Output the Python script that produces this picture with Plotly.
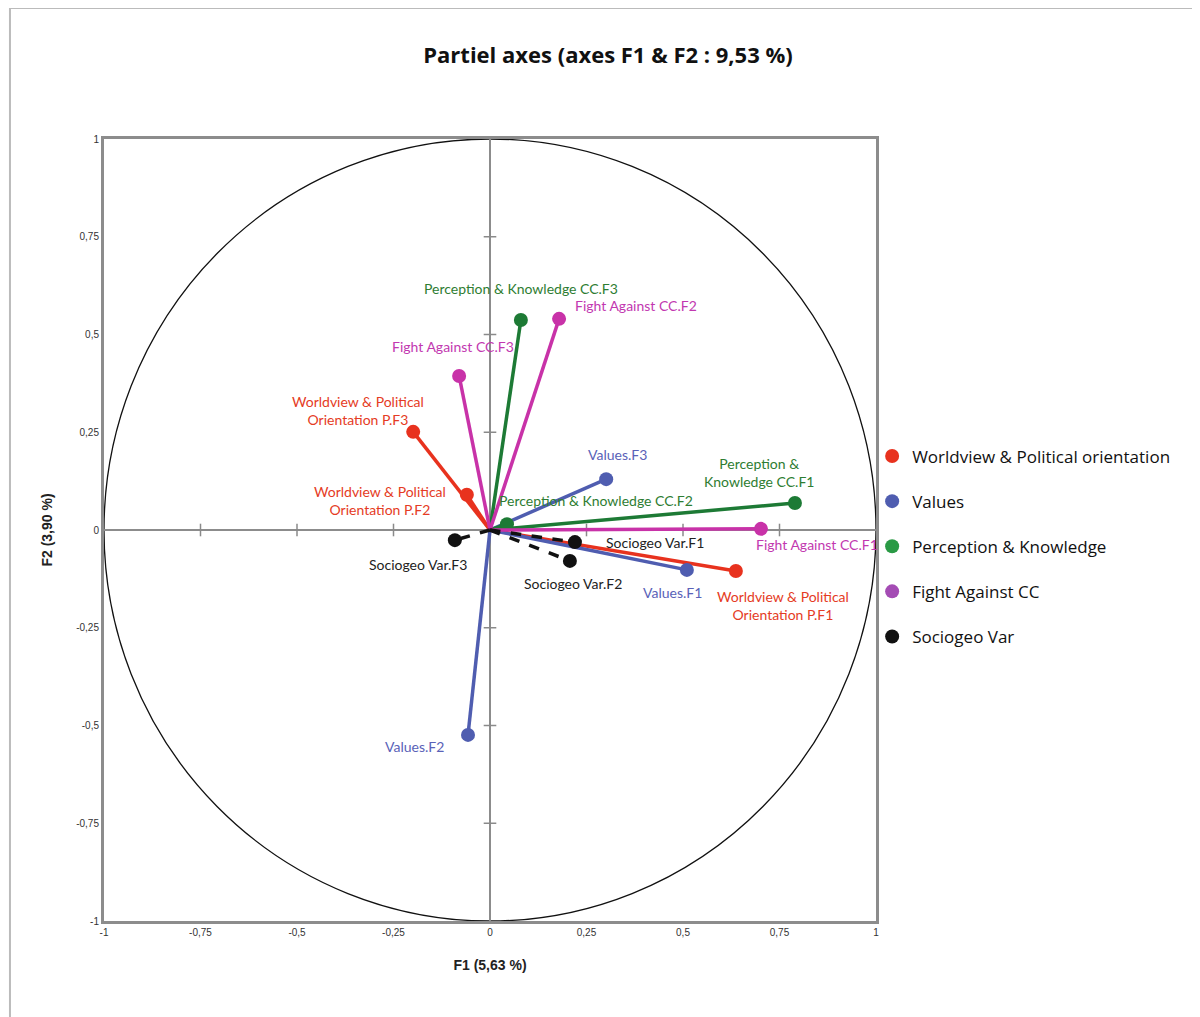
import plotly.graph_objects as go

# ---- data ----
groups = ["Worldview & Political orientation", "Values", "Perception & Knowledge", "Fight Against CC", "Sociogeo Var"]
wpo_labels = ["Worldview & Political<br>Orientation P.F1", "Worldview & Political<br>Orientation P.F2", "Worldview & Political<br>Orientation P.F3"]
wpo_x = [0.637, -0.060, -0.199]
wpo_y = [-0.105, 0.090, 0.251]
val_labels = ["Values.F1", "Values.F2", "Values.F3"]
val_x = [0.510, -0.057, 0.301]
val_y = [-0.102, -0.524, 0.130]
pk_labels = ["Perception &<br>Knowledge CC.F1", "Perception & Knowledge CC.F2", "Perception & Knowledge CC.F3"]
pk_x = [0.790, 0.044, 0.080]
pk_y = [0.069, 0.015, 0.537]
fac_labels = ["Fight Against CC.F1", "Fight Against CC.F2", "Fight Against CC.F3"]
fac_x = [0.702, 0.179, -0.080]
fac_y = [0.003, 0.540, 0.394]
soc_labels = ["Sociogeo Var.F1", "Sociogeo Var.F2", "Sociogeo Var.F3"]
soc_x = [0.220, 0.207, -0.091]
soc_y = [-0.031, -0.079, -0.026]

tick_vals = [-1, -0.75, -0.5, -0.25, 0, 0.25, 0.5, 0.75, 1]
tick_text = ["-1", "-0,75", "-0,5", "-0,25", "0", "0,25", "0,5", "0,75", "1"]

# ---- styles ----
line_colors = ["#E8321E", "#4F5DB0", "#1D7A35", "#C832A8", "#111111"]
legend_colors = ["#E8321E", "#4F5DB0", "#2A9A45", "#A44CB4", "#111111"]
text_colors = ["#E53B24", "#5A62B8", "#2E7D32", "#C238B0", "#222222"]
dashes = ["solid", "solid", "solid", "solid", "dash"]
# label pixel offsets (dx, dy; dy positive = down)
offsets = [
    [(47, 34), (-87, 6), (-55, -21)],
    [(-14, 23), (-54, 12), (11, -25)],
    [(-36, -31), (89, -24), (0, -32)],
    [(56, 16), (77, -13), (-6, -29)],
    [(80, 0), (3, 23), (-37, 24)],
]

data_sets = [
    (wpo_x, wpo_y, wpo_labels),
    (val_x, val_y, val_labels),
    (pk_x, pk_y, pk_labels),
    (fac_x, fac_y, fac_labels),
    (soc_x, soc_y, soc_labels),
]

FONT = "Lato, Open Sans, sans-serif"
NARROW = "Liberation Sans Narrow, Liberation Sans, sans-serif"
fig = go.Figure()

# small cross tick marks on the zero axes
inner_ticks = [v for v in tick_vals if v not in (-1, 0, 1)]
fig.add_trace(go.Scatter(x=inner_ticks, y=[0] * len(inner_ticks), mode="markers",
                         marker=dict(symbol="line-ns", size=9, line=dict(color="#8a8a8a", width=1.5)),
                         showlegend=False, hoverinfo="skip"))
fig.add_trace(go.Scatter(x=[0] * len(inner_ticks), y=inner_ticks, mode="markers",
                         marker=dict(symbol="line-ew", size=9, line=dict(color="#8a8a8a", width=1.5)),
                         showlegend=False, hoverinfo="skip"))

annotations = []
for gi, (xs, ys, labs) in enumerate(data_sets):
    lx, ly = [], []
    for x, y in zip(xs, ys):
        lx += [0, x, None]
        ly += [0, y, None]
    fig.add_trace(go.Scatter(x=lx, y=ly, mode="lines",
                             line=dict(color=line_colors[gi], width=3.5, dash=dashes[gi]),
                             showlegend=False, hoverinfo="skip"))
    fig.add_trace(go.Scatter(x=xs, y=ys, mode="markers",
                             marker=dict(color=line_colors[gi], size=14),
                             showlegend=False, text=labs, hoverinfo="text"))
    for (x, y, lab, (dx, dy)) in zip(xs, ys, labs, offsets[gi]):
        annotations.append(dict(x=x, y=y, xref="x", yref="y", text=lab, showarrow=False,
                                xshift=dx, yshift=-dy, align="center",
                                font=dict(family=FONT, size=14, color=text_colors[gi])))

# legend-only entries
for gi, g in enumerate(groups):
    fig.add_trace(go.Scatter(x=[None], y=[None], mode="markers", name=g,
                             marker=dict(color=legend_colors[gi], size=14),
                             legendgroup=g, showlegend=True))

axis_common = dict(range=[-1, 1], tickvals=tick_vals, ticktext=tick_text, showgrid=False,
                   zeroline=True, zerolinecolor="#8c8c8c", zerolinewidth=2,
                   showline=True, mirror=True, linecolor="#8c8c8c", linewidth=3,
                   ticks="", tickfont=dict(family=NARROW, size=10, color="#333333"),
                   fixedrange=True)

fig.update_layout(
    width=1200, height=1017,
    margin=dict(l=96, r=332, t=131, b=104),
    paper_bgcolor="white", plot_bgcolor="white",
    title=dict(text="<b>Partiel axes (axes F1 &amp; F2 : 9,53 %)</b>", x=0.5, xanchor="center",
               y=0.953, yanchor="middle", xref="container", yref="container",
               font=dict(family="Open Sans, Lato, sans-serif", size=22, color="#111111")),
    xaxis=dict(**axis_common,
               title=dict(text="<b>F1 (5,63 %)</b>", standoff=24,
                          font=dict(family=NARROW, size=14, color="#222"))),
    yaxis=dict(**axis_common,
               title=dict(text="<b>F2 (3,90 %)</b>", standoff=21,
                          font=dict(family=NARROW, size=14, color="#222"))),
    legend=dict(x=0.995, y=0.617, xanchor="left", yanchor="top", traceorder="grouped",
                tracegroupgap=20, font=dict(family="Open Sans, sans-serif", size=17, color="#111"),
                itemwidth=30, bgcolor="rgba(0,0,0,0)"),
    annotations=annotations,
    shapes=[
        dict(type="circle", xref="x", yref="y", x0=-1, y0=-1, x1=1, y1=1,
             line=dict(color="#111111", width=1.3), layer="below"),
        dict(type="line", xref="paper", yref="paper", x0=-0.1218, x1=-0.1218, y0=-0.2, y1=1.1675,
             line=dict(color="#bbbbbb", width=2)),
        dict(type="line", xref="paper", yref="paper", x0=-0.1218, x1=1.6, y0=1.1675, y1=1.1675,
             line=dict(color="#bbbbbb", width=2)),
    ],
    showlegend=True,
)

fig.write_html("out.html")
